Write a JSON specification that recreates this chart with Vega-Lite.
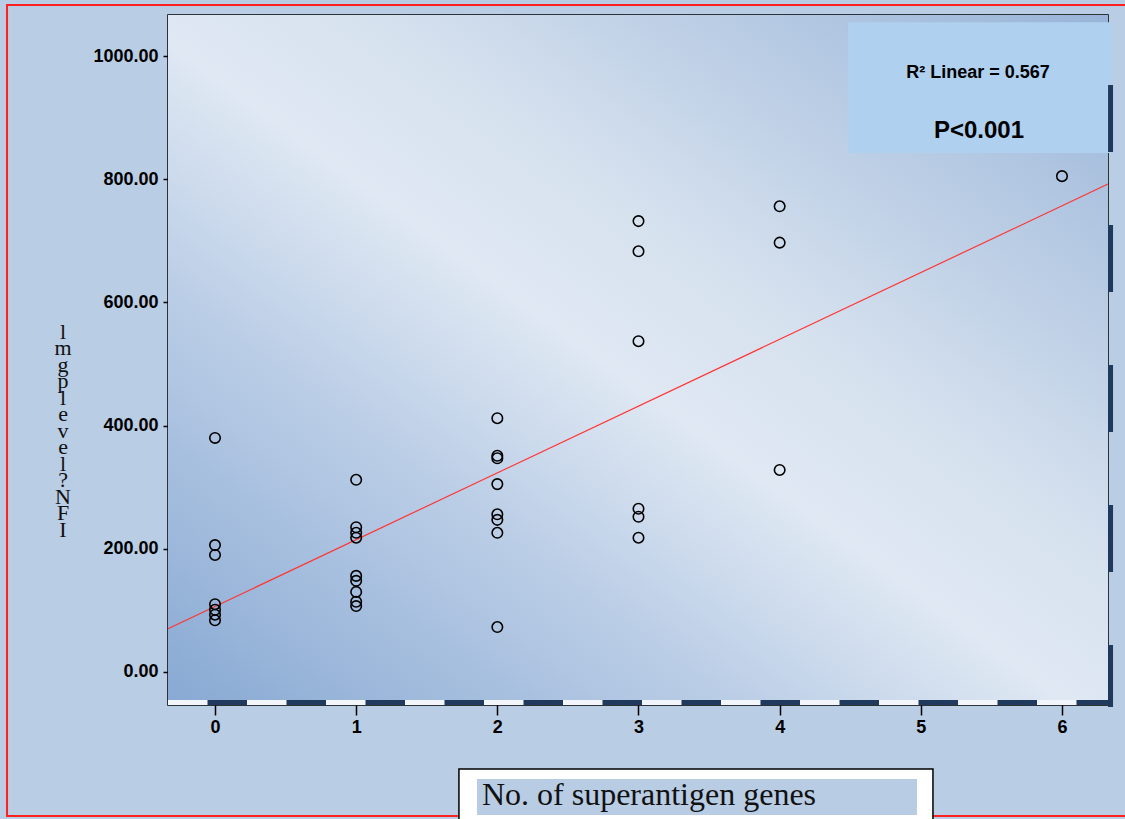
{
  "$schema": "https://vega.github.io/schema/vega-lite/v6.json",
  "width": 940,
  "height": 690,
  "autosize": {"type": "none"},
  "padding": {"left": 168, "top": 15, "right": 17, "bottom": 114},
  "background": "#b9cde5",
  "config": {
    "view": {"stroke": "#000000", "strokeWidth": 1.5},
    "axis": {"domain": false, "grid": false, "title": null, "tickColor": "#000000", "tickWidth": 1.5,
      "labelFont": "Liberation Sans", "labelFontWeight": "bold", "labelFontSize": 18, "labelColor": "#000000", "labelFlush": false},
    "axisX": {"tickSize": 10, "labelPadding": 3},
    "axisY": {"tickSize": 5, "labelPadding": 5}
  },
  "datasets": {
    "pts": [
      {"genes": 0, "ifn": 380}, {"genes": 0, "ifn": 206}, {"genes": 0, "ifn": 190}, {"genes": 0, "ifn": 110}, {"genes": 0, "ifn": 101}, {"genes": 0, "ifn": 93}, {"genes": 0, "ifn": 84},
      {"genes": 1, "ifn": 312}, {"genes": 1, "ifn": 235}, {"genes": 1, "ifn": 226}, {"genes": 1, "ifn": 218}, {"genes": 1, "ifn": 156}, {"genes": 1, "ifn": 148}, {"genes": 1, "ifn": 130}, {"genes": 1, "ifn": 114}, {"genes": 1, "ifn": 107},
      {"genes": 2, "ifn": 412}, {"genes": 2, "ifn": 351}, {"genes": 2, "ifn": 347}, {"genes": 2, "ifn": 305}, {"genes": 2, "ifn": 256}, {"genes": 2, "ifn": 247}, {"genes": 2, "ifn": 226}, {"genes": 2, "ifn": 73},
      {"genes": 3, "ifn": 732}, {"genes": 3, "ifn": 683}, {"genes": 3, "ifn": 537}, {"genes": 3, "ifn": 265}, {"genes": 3, "ifn": 252}, {"genes": 3, "ifn": 218},
      {"genes": 4, "ifn": 756}, {"genes": 4, "ifn": 697}, {"genes": 4, "ifn": 328},
      {"genes": 6, "ifn": 805}
    ],
    "fit": [{"genes": -0.333, "ifn": 70.3}, {"genes": 6.326, "ifn": 792.2}],
    "one": [{}],
    "r2": [{"label": "R² Linear = 0.567"}],
    "p": [{"label": "P<0.001"}],
    "xt": [{"label": "No. of superantigen genes"}],
    "yt": [{"label": "l\nm\ng\np\nl\ne\nv\ne\nl\n?\nN\nF\nI"}]
  },
  "layer": [
    {
      "data": {"name": "one"},
      "mark": {"type": "rect", "stroke": "#ff2020", "strokeWidth": 2, "fill": null, "clip": false},
      "encoding": {
        "x": {"datum": -1.4734, "type": "quantitative", "scale": {"domain": [-0.333, 6.326], "nice": false, "zero": false}, "axis": {"values": [0, 1, 2, 3, 4, 5, 6], "format": "d", "title": null}},
        "x2": {"datum": 6.5},
        "y": {"datum": 1082.8, "type": "quantitative", "scale": {"domain": [-53.6, 1066.6], "nice": false, "zero": false}, "axis": {"values": [0, 200, 400, 600, 800, 1000], "format": ".2f", "title": null}},
        "y2": {"datum": -233.8}
      }
    },
    {
      "data": {"name": "one"},
      "mark": {"type": "rect", "color": {"gradient": "linear", "x1": 0, "y1": 1, "x2": 1, "y2": 0, "stops": [
        {"offset": 0, "color": "#88a9d3"},
        {"offset": 0.3, "color": "#bacde6"},
        {"offset": 0.48, "color": "#dfe8f3"},
        {"offset": 0.6, "color": "#d7e2ef"},
        {"offset": 1, "color": "#98b4d8"}
      ]}},
      "encoding": {
        "x": {"datum": -0.333, "type": "quantitative", "scale": {"domain": [-0.333, 6.326], "nice": false, "zero": false}, "axis": {"values": [0, 1, 2, 3, 4, 5, 6], "format": "d", "title": null}},
        "x2": {"datum": 6.326},
        "y": {"datum": -53.6, "type": "quantitative", "scale": {"domain": [-53.6, 1066.6], "nice": false, "zero": false}, "axis": {"values": [0, 200, 400, 600, 800, 1000], "format": ".2f", "title": null}},
        "y2": {"datum": 1066.6}
      }
    },
    {
      "data": {"name": "one"},
      "mark": {"type": "rule", "color": "#f2f5f9", "strokeWidth": 5},
      "encoding": {
        "x": {"datum": -0.333, "type": "quantitative", "scale": {"domain": [-0.333, 6.326], "nice": false, "zero": false}, "axis": {"values": [0, 1, 2, 3, 4, 5, 6], "format": "d", "title": null}},
        "x2": {"datum": 6.326},
        "y": {"datum": -49.5, "type": "quantitative", "scale": {"domain": [-53.6, 1066.6], "nice": false, "zero": false}, "axis": {"values": [0, 200, 400, 600, 800, 1000], "format": ".2f", "title": null}}
      }
    },
    {
      "data": {"name": "one"},
      "mark": {"type": "rule", "color": "#1f3a5c", "strokeWidth": 5, "strokeDash": [39.5, 39.5], "strokeDashOffset": 39.5},
      "encoding": {
        "x": {"datum": -0.333, "type": "quantitative", "scale": {"domain": [-0.333, 6.326], "nice": false, "zero": false}, "axis": {"values": [0, 1, 2, 3, 4, 5, 6], "format": "d", "title": null}},
        "x2": {"datum": 6.326},
        "y": {"datum": -49.5, "type": "quantitative", "scale": {"domain": [-53.6, 1066.6], "nice": false, "zero": false}, "axis": {"values": [0, 200, 400, 600, 800, 1000], "format": ".2f", "title": null}}
      }
    },
    {
      "data": {"name": "fit"},
      "mark": {"type": "line", "color": "#ff3535", "strokeWidth": 1.2},
      "encoding": {
        "x": {"field": "genes", "type": "quantitative", "scale": {"domain": [-0.333, 6.326], "nice": false, "zero": false}, "axis": {"values": [0, 1, 2, 3, 4, 5, 6], "format": "d", "title": null}},
        "y": {"field": "ifn", "type": "quantitative", "scale": {"domain": [-53.6, 1066.6], "nice": false, "zero": false}, "axis": {"values": [0, 200, 400, 600, 800, 1000], "format": ".2f", "title": null}}
      }
    },
    {
      "data": {"name": "pts"},
      "mark": {"type": "point", "shape": "circle", "filled": false, "stroke": "#000000", "strokeWidth": 1.6, "size": 110, "opacity": 1},
      "encoding": {
        "x": {"field": "genes", "type": "quantitative", "scale": {"domain": [-0.333, 6.326], "nice": false, "zero": false}, "axis": {"values": [0, 1, 2, 3, 4, 5, 6], "format": "d", "title": null}},
        "y": {"field": "ifn", "type": "quantitative", "scale": {"domain": [-53.6, 1066.6], "nice": false, "zero": false}, "axis": {"values": [0, 200, 400, 600, 800, 1000], "format": ".2f", "title": null}}
      }
    },
    {
      "data": {"name": "one"},
      "mark": {"type": "rect", "color": "#afd0ee", "clip": false},
      "encoding": {
        "x": {"datum": 4.484, "type": "quantitative", "scale": {"domain": [-0.333, 6.326], "nice": false, "zero": false}, "axis": {"values": [0, 1, 2, 3, 4, 5, 6], "format": "d", "title": null}},
        "x2": {"datum": 6.354},
        "y": {"datum": 1055, "type": "quantitative", "scale": {"domain": [-53.6, 1066.6], "nice": false, "zero": false}, "axis": {"values": [0, 200, 400, 600, 800, 1000], "format": ".2f", "title": null}},
        "y2": {"datum": 842.5}
      }
    },
    {
      "data": {"name": "one"},
      "mark": {"type": "rule", "color": "#1f3a5c", "strokeWidth": 5, "strokeDash": [67, 73], "strokeDashOffset": 70, "clip": false},
      "encoding": {
        "x": {"datum": 6.344, "type": "quantitative", "scale": {"domain": [-0.333, 6.326], "nice": false, "zero": false}, "axis": {"values": [0, 1, 2, 3, 4, 5, 6], "format": "d", "title": null}},
        "y": {"datum": 1066.6, "type": "quantitative", "scale": {"domain": [-53.6, 1066.6], "nice": false, "zero": false}, "axis": {"values": [0, 200, 400, 600, 800, 1000], "format": ".2f", "title": null}},
        "y2": {"datum": -57}
      }
    },
    {
      "data": {"name": "r2"},
      "mark": {"type": "text", "font": "Liberation Sans", "fontWeight": "bold", "fontSize": 18, "color": "#000000", "align": "center", "baseline": "alphabetic"},
      "encoding": {
        "x": {"datum": 5.405, "type": "quantitative", "scale": {"domain": [-0.333, 6.326], "nice": false, "zero": false}, "axis": {"values": [0, 1, 2, 3, 4, 5, 6], "format": "d", "title": null}},
        "y": {"datum": 964.3, "type": "quantitative", "scale": {"domain": [-53.6, 1066.6], "nice": false, "zero": false}, "axis": {"values": [0, 200, 400, 600, 800, 1000], "format": ".2f", "title": null}},
        "text": {"field": "label"}
      }
    },
    {
      "data": {"name": "p"},
      "mark": {"type": "text", "font": "Liberation Sans", "fontWeight": "bold", "fontSize": 24, "color": "#000000", "align": "center", "baseline": "alphabetic"},
      "encoding": {
        "x": {"datum": 5.412, "type": "quantitative", "scale": {"domain": [-0.333, 6.326], "nice": false, "zero": false}, "axis": {"values": [0, 1, 2, 3, 4, 5, 6], "format": "d", "title": null}},
        "y": {"datum": 866.9, "type": "quantitative", "scale": {"domain": [-53.6, 1066.6], "nice": false, "zero": false}, "axis": {"values": [0, 200, 400, 600, 800, 1000], "format": ".2f", "title": null}},
        "text": {"field": "label"}
      }
    },
    {
      "data": {"name": "one"},
      "mark": {"type": "rect", "color": "#ffffff", "stroke": "#000000", "strokeWidth": 1.5, "clip": false},
      "encoding": {
        "x": {"datum": 1.728, "type": "quantitative", "scale": {"domain": [-0.333, 6.326], "nice": false, "zero": false}, "axis": {"values": [0, 1, 2, 3, 4, 5, 6], "format": "d", "title": null}},
        "x2": {"datum": 5.086},
        "y": {"datum": -157.5, "type": "quantitative", "scale": {"domain": [-53.6, 1066.6], "nice": false, "zero": false}, "axis": {"values": [0, 200, 400, 600, 800, 1000], "format": ".2f", "title": null}},
        "y2": {"datum": -270}
      }
    },
    {
      "data": {"name": "one"},
      "mark": {"type": "rect", "color": "#b8cce4", "clip": false},
      "encoding": {
        "x": {"datum": 1.856, "type": "quantitative", "scale": {"domain": [-0.333, 6.326], "nice": false, "zero": false}, "axis": {"values": [0, 1, 2, 3, 4, 5, 6], "format": "d", "title": null}},
        "x2": {"datum": 4.973},
        "y": {"datum": -173.7, "type": "quantitative", "scale": {"domain": [-53.6, 1066.6], "nice": false, "zero": false}, "axis": {"values": [0, 200, 400, 600, 800, 1000], "format": ".2f", "title": null}},
        "y2": {"datum": -232.1}
      }
    },
    {
      "data": {"name": "xt"},
      "mark": {"type": "text", "font": "Liberation Serif", "fontSize": 32, "color": "#111111", "align": "left", "baseline": "alphabetic"},
      "encoding": {
        "x": {"datum": 1.891, "type": "quantitative", "scale": {"domain": [-0.333, 6.326], "nice": false, "zero": false}, "axis": {"values": [0, 1, 2, 3, 4, 5, 6], "format": "d", "title": null}},
        "y": {"datum": -215.9, "type": "quantitative", "scale": {"domain": [-53.6, 1066.6], "nice": false, "zero": false}, "axis": {"values": [0, 200, 400, 600, 800, 1000], "format": ".2f", "title": null}},
        "text": {"field": "label"}
      }
    },
    {
      "data": {"name": "yt"},
      "mark": {"type": "text", "font": "Liberation Serif", "fontSize": 22, "lineHeight": 16.5, "lineBreak": "\n", "color": "#111111", "align": "center", "baseline": "top"},
      "encoding": {
        "x": {"datum": -1.0767, "type": "quantitative", "scale": {"domain": [-0.333, 6.326], "nice": false, "zero": false}, "axis": {"values": [0, 1, 2, 3, 4, 5, 6], "format": "d", "title": null}},
        "y": {"datum": 568.2, "type": "quantitative", "scale": {"domain": [-53.6, 1066.6], "nice": false, "zero": false}, "axis": {"values": [0, 200, 400, 600, 800, 1000], "format": ".2f", "title": null}},
        "text": {"field": "label"}
      }
    }
  ]
}
